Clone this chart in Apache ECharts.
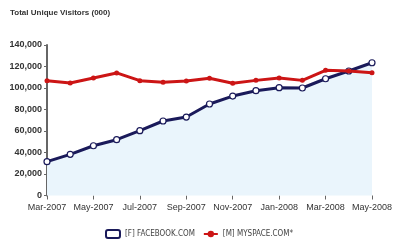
<!DOCTYPE html>
<html><head><meta charset="utf-8">
<script src="https://cdn.jsdelivr.net/npm/echarts@6/dist/echarts.min.js"></script>
<style>html,body{margin:0;padding:0;background:#fff}#c{width:400px;height:250px}</style>
</head><body><div id="c"></div>
<script>
var months = ['Mar-2007','Apr-2007','May-2007','Jun-2007','Jul-2007','Aug-2007','Sep-2007','Oct-2007','Nov-2007','Dec-2007','Jan-2008','Feb-2008','Mar-2008','Apr-2008','May-2008'];
var facebook = [31500, 38300, 46300, 51900, 60300, 69300, 73000, 85100, 92500, 97500, 100300, 100000, 108600, 115800, 123500];
var myspace = [106800, 104700, 109300, 114000, 106800, 105300, 106500, 109000, 104400, 107100, 109300, 107100, 116400, 115800, 114200];
var yTicks = [0, 20000, 40000, 60000, 80000, 100000, 120000, 140000];
var titleText = 'Total Unique Visitors (000)';
var fbName = '[F] FACEBOOK.COM';
var msName = '[M] MYSPACE.COM*';

var chart = echarts.init(document.getElementById('c'), null, {renderer:'canvas'});
chart.setOption({
  backgroundColor:'#fff',
  animation:false,
  title:{text:titleText, left:5, top:4, textStyle:{fontFamily:'Arial', fontSize:8, fontWeight:'bold', color:'#333'}},
  grid:{left:47, right:28, top:45, bottom:54.5, containLabel:false},
  legend:{
    bottom:6, left:100, itemGap:8, itemWidth:14, itemHeight:8,
    textStyle:{fontFamily:'DejaVu Sans Condensed, Arial', fontSize:8, color:'#444'},
    data:[
      {name:fbName, icon:'roundRect', itemStyle:{color:'#fff', borderColor:'#1a1a5a', borderWidth:2}},
      {name:msName}
    ]
  },
  xAxis:{
    type:'category', data:months, boundaryGap:false,
    axisLine:{show:false},
    axisTick:{show:true, interval:1, length:4, lineStyle:{color:'#666'}},
    axisLabel:{interval:1, fontFamily:'Arial', fontSize:9, color:'#333', margin:8}
  },
  yAxis:{
    type:'value', min:yTicks[0], max:yTicks[yTicks.length-1], interval:20000,
    splitLine:{show:false},
    axisLine:{show:true, lineStyle:{color:'#666', width:2}},
    axisTick:{show:true, length:3, lineStyle:{color:'#666'}},
    axisLabel:{fontFamily:'Arial', fontSize:9, fontWeight:'bold', color:'#333', margin:5,
      formatter:function(v){return v.toLocaleString('en-US');}}
  },
  series:[
    {name:fbName, type:'line', data:facebook, symbol:'circle', symbolSize:6,
     lineStyle:{color:'#1a1a5a', width:3},
     itemStyle:{color:'#fff', borderColor:'#1a1a5a', borderWidth:1.2},
     areaStyle:{color:'#eaf5fc', opacity:1}, z:2},
    {name:msName, type:'line', data:myspace, symbol:'circle', symbolSize:5,
     lineStyle:{color:'#cc1515', width:3},
     itemStyle:{color:'#cc1515'}, z:3}
  ]
});
</script></body></html>
